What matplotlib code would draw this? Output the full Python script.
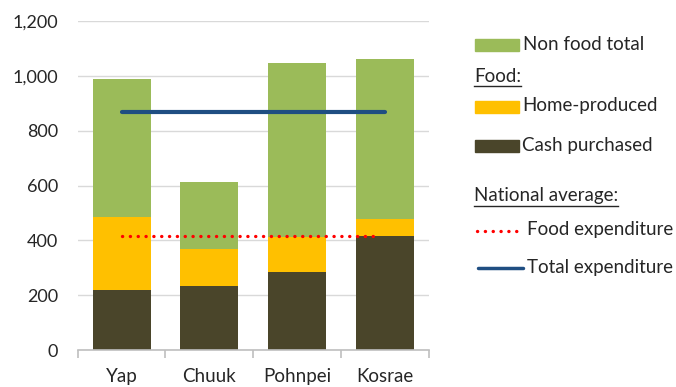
import matplotlib
matplotlib.use("Agg")
import matplotlib.pyplot as plt
from matplotlib.lines import Line2D
from matplotlib.patches import Rectangle
import numpy as np

plt.rcParams["font.family"] = ["Lato", "DejaVu Sans"]

islands = ["Yap", "Chuuk", "Pohnpei", "Kosrae"]
cash_purchased = [220, 233, 286, 416]
home_produced = [264, 135, 125, 64]
non_food = [504, 246, 636, 582]
nat_food = 415
nat_total = 868

GREEN, ORANGE, DARK = "#9BBB59", "#FFC000", "#4A452A"
NAVY, RED = "#1F4E82", "#FF0000"
TXT = "#262626"
DOTS = (0, (0.05, 2.3))

fig = plt.figure(figsize=(6.76, 3.87), dpi=100)
ax = fig.add_axes([0.115, 0.0956, 0.519, 0.849])

x = np.arange(len(islands))
cash = np.array(cash_purchased)
home = np.array(home_produced)
ax.bar(x, cash, width=0.66, color=DARK, zorder=2)
ax.bar(x, home, bottom=cash, width=0.66, color=ORANGE, zorder=2)
ax.bar(x, non_food, bottom=cash + home, width=0.66, color=GREEN, zorder=2)

ax.plot([x[0], x[-1]], [nat_total] * 2, color=NAVY, lw=3, solid_capstyle="round", zorder=3)
ax.plot([x[0], x[-1] - 0.1], [nat_food] * 2, color=RED, lw=2.4, ls=DOTS,
        dash_capstyle="round", zorder=3)

ax.set_xlim(-0.5, 3.5)
ax.set_ylim(0, 1200)
ax.set_yticks(range(0, 1201, 200))
ax.set_yticklabels([f"{v:,}" for v in range(0, 1201, 200)])
ax.yaxis.grid(True, color="#D9D9D9", lw=1, zorder=0)
ax.set_axisbelow(True)
for s in ["left", "right", "top"]:
    ax.spines[s].set_visible(False)
ax.spines["bottom"].set_color("#BFBFBF")
ax.spines["bottom"].set_linewidth(1.2)
ax.tick_params(axis="y", length=0, pad=14, labelsize=13, labelcolor=TXT)
ax.set_xticks(x)
ax.set_xticklabels(islands)
ax.tick_params(axis="x", which="major", length=0, pad=13, labelsize=13.5, labelcolor=TXT)
ax.set_xticks(np.arange(-0.5, 3.6, 1), minor=True)
ax.tick_params(axis="x", which="minor", length=6, color="#BFBFBF", width=1.2)

# custom legend (pixel coords -> figure fraction)
W, H = 676, 387
def fx(px): return px / W
def fy(py): return 1 - py / H

fs = 13.5
def patch(y, c):
    fig.add_artist(Rectangle((fx(475), fy(y + 6)), fx(44), 12 / H, color=c, transform=fig.transFigure))

patch(45, GREEN)
fig.text(fx(523), fy(45), "Non food total", fontsize=fs, va="center", color=TXT)
patch(107, ORANGE)
fig.text(fx(522), fy(106), "Home-produced", fontsize=fs, va="center", color=TXT)
patch(146, DARK)
fig.text(fx(522), fy(146), "Cash purchased", fontsize=fs, va="center", color=TXT)
t1 = fig.text(fx(474), fy(77), "Food:", fontsize=fs, va="center", color=TXT)
t2 = fig.text(fx(474), fy(196), "National average:", fontsize=fs, va="center", color=TXT)
fig.add_artist(Line2D([fx(477), fx(519)], [fy(231)] * 2, color=RED, lw=2.4,
                      ls=DOTS, dash_capstyle="round", transform=fig.transFigure))
fig.text(fx(527), fy(230), "Food expenditure", fontsize=fs, va="center", color=TXT)
fig.add_artist(Line2D([fx(478), fx(523)], [fy(268)] * 2, color=NAVY, lw=2.5,
                      solid_capstyle="round", transform=fig.transFigure))
fig.text(fx(527), fy(268), "Total expenditure", fontsize=fs, va="center", color=TXT)

fig.canvas.draw()
r = fig.canvas.get_renderer()
inv = fig.transFigure.inverted()
for t in (t1, t2):
    bb = t.get_window_extent(r)
    (x0, y0), (x1, _) = inv.transform([(bb.x0, bb.y0), (bb.x1, bb.y1)])
    fig.add_artist(Line2D([x0, x1], [y0 - 1 / H] * 2, color=TXT, lw=1, transform=fig.transFigure))

fig.savefig("out.png", dpi=100)
